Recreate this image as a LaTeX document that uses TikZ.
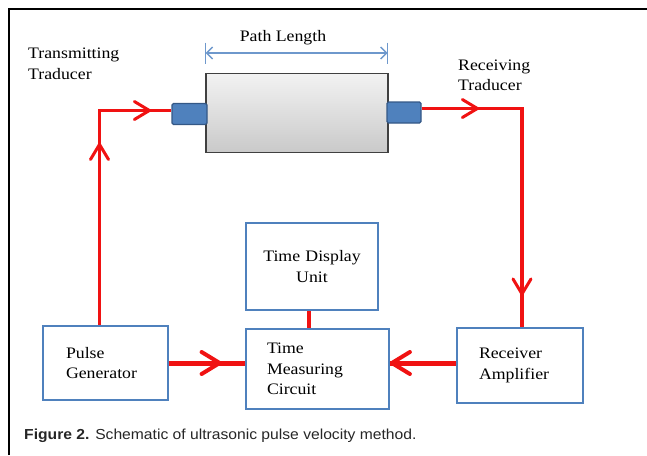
\documentclass[tikz,border=0pt]{standalone}
\usepackage{fontspec}
\setmainfont{Liberation Serif}[FakeStretch=1.11]
\newfontfamily\capfont{Liberation Sans}[FakeStretch=1.08]
\usetikzlibrary{arrows.meta,decorations.markings}
\definecolor{boxblue}{RGB}{79,129,189}
\definecolor{tdfill}{RGB}{79,129,189}
\definecolor{tdedge}{RGB}{52,88,134}
\definecolor{sigred}{RGB}{240,18,18}
\definecolor{dimblue}{RGB}{110,152,204}
\tikzset{
  blk/.style={draw=boxblue, line width=2.5pt, fill=white, align=left,
    font=\fontsize{16}{20.5}\selectfont, inner ysep=0pt},
  trans/.style={draw=tdedge, line width=1.2pt, fill=tdfill, rounded corners=1.5pt,
    inner sep=0pt},
  lbl/.style={font=\fontsize{16}{20.5}\selectfont, inner sep=0pt, align=left},
  sig/.style={draw=sigred, line width=3.5pt},
  sigb/.style={draw=sigred, line width=5pt},
  mk/.style={postaction={decorate, decoration={markings,
    mark=at position #1 with {\draw[sigred, line width=3pt, line cap=round, line join=round]
      (-15pt,9pt) -- (0pt,0pt) -- (-15pt,-9pt);}}}},
  mkb/.style={postaction={decorate, decoration={markings,
    mark=at position #1 with {\draw[sigred, line width=4pt, line cap=round, line join=round]
      (-18pt,11pt) -- (0pt,0pt) -- (-18pt,-11pt);}}}},
}
\begin{document}
\begin{tikzpicture}[x=1pt,y=-1pt]
\useasboundingbox (0,0) rectangle (647,455);
% frame
\draw[line width=2.5pt] (9,455) -- (9,9) -- (647,9);

% specimen cylinder
\node[draw=black!75, line width=1.8pt, top color=gray!10, bottom color=gray!42,
  minimum width=182pt, minimum height=79pt, inner sep=0pt] (cyl) at (297,113) {};
\node[trans, minimum width=35pt, minimum height=21pt] (tl) at (189.5,114) {};
\node[trans, minimum width=34pt, minimum height=21pt] (tr) at (404,112.5) {};

% path length
\coordinate (pla) at (205.7,53);
\coordinate (plb) at (387.5,53);
\draw[dimblue, line width=1.3pt] ([yshift=10.5pt]pla) -- ([yshift=-10.5pt]pla);
\draw[dimblue, line width=1.3pt] ([yshift=10.5pt]plb) -- ([yshift=-10.5pt]plb);
\draw[dimblue, line width=1.3pt, {Straight Barb[length=6pt,width=12pt]}-{Straight Barb[length=6pt,width=12pt]}] (pla) -- (plb);
\node[lbl, anchor=base] (plt) at (283,41) {Path Length};

% side labels
\node[lbl, anchor=base west] (tx1) at (28,58) {Transmitting};
\node[lbl, anchor=base west] (tx2) at (28,79) {Traducer};
\node[lbl, anchor=base west] (rx1) at (458,70) {Receiving};
\node[lbl, anchor=base west] (rx2) at (458,90.5) {Traducer};

% blocks
\node[blk, minimum width=125pt, minimum height=74pt, inner xsep=23pt, text width=79pt] (pg) at (105.5,363) {Pulse\\Generator};
\node[blk, minimum width=132pt, minimum height=87pt, inner xsep=8pt, text width=116pt, align=center] (tdu) at (312,266.5) {Time Display\\Unit};
\node[blk, minimum width=143pt, minimum height=80pt, inner xsep=21pt, text width=101pt] (tmc) at (317.5,369) {Time\\Measuring\\Circuit};
\node[blk, minimum width=126pt, minimum height=75pt, inner xsep=22pt, text width=82pt] (ra) at (520,365.5) {Receiver\\Amplifier};

% signal connectors
\draw[sig, mk=0.63, mk=0.923] ([xshift=-6pt]pg.north) |- ([yshift=3.5pt]tl.west);
\draw[sig, mk=0.175, mk=0.897] ([yshift=4pt]tr.east) -| ([xshift=2pt]ra.north);
\draw[sigb, mkb=0.667] (pg.east) -- (pg.east -| tmc.west);
\draw[sigb, mkb=0.975] ([yshift=2.5pt]ra.west) -- ([yshift=2.5pt]ra.west -| tmc.east);
\draw[sig] ([xshift=-3pt]tdu.south) -- ([xshift=-3pt]tdu.south |- tmc.north);

% caption
\node[anchor=base west, inner sep=0pt, font=\capfont\fontsize{14.5}{16}\selectfont, text=black!85] (cap) at (24,439) {\textbf{Figure 2.} Schematic of ultrasonic pulse velocity method.};
\end{tikzpicture}
\end{document}
